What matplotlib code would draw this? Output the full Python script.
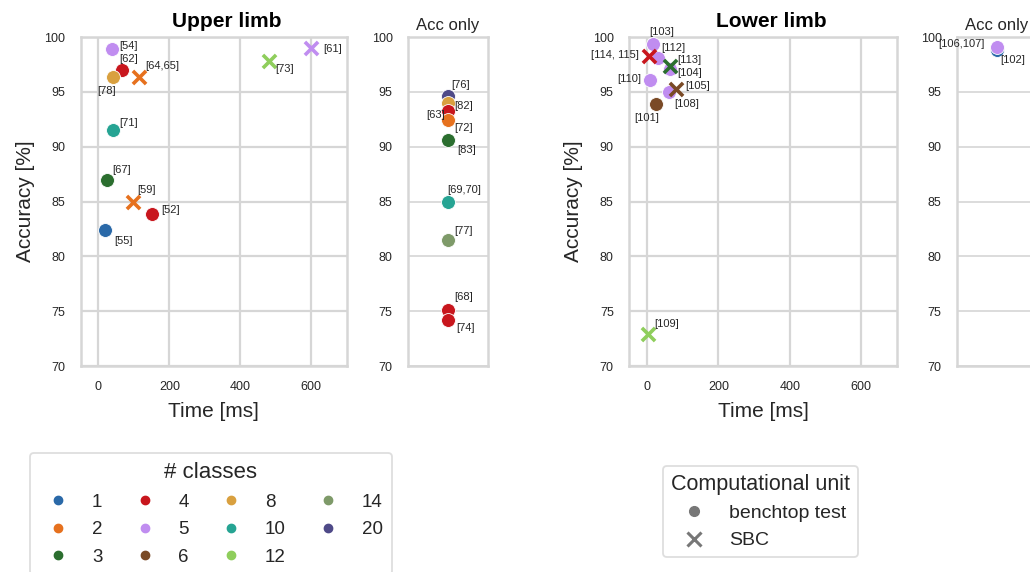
import matplotlib
matplotlib.use("Agg")
import matplotlib.pyplot as plt
from matplotlib.lines import Line2D

plt.rcParams["font.family"] = ["Liberation Sans", "DejaVu Sans"]

# ---- data ----
# Upper limb, time vs accuracy
up_ref = ["[54]", "[62]", "[78]", "[71]", "[67]", "[52]", "[55]", "[64,65]", "[61]", "[73]", "[59]"]
up_time = [38, 66, 40, 40, 25, 152, 19, 115, 600, 480, 98]
up_acc = [98.95, 97.0, 96.4, 91.5, 87.0, 83.9, 82.4, 96.4, 99.0, 97.8, 85.0]
up_cls = [5, 4, 8, 10, 3, 4, 1, 2, 5, 12, 2]
up_unit = ["bench"] * 7 + ["SBC"] * 4

# Upper limb, accuracy only
upacc_ref = ["[76]", "[82]", "[63]", "[72]", "[83]", "[69,70]", "[77]", "[68]", "[74]"]
upacc_acc = [94.6, 94.0, 93.3, 92.4, 90.6, 85.0, 81.5, 75.1, 74.2]
upacc_cls = [20, 8, 4, 2, 3, 10, 14, 4, 4]

# Lower limb, time vs accuracy
lo_ref = ["[103]", "[112]", "[104]", "[110]", "[108]", "[101]", "[114, 115]", "[113]", "[105]", "[109]"]
lo_time = [18, 30, 65, 8, 61, 25, 6, 65, 82, 2]
lo_acc = [99.4, 98.1, 97.1, 96.1, 95.0, 93.9, 98.3, 97.4, 95.3, 72.9]
lo_cls = [5, 5, 5, 5, 5, 6, 4, 3, 6, 12]
lo_unit = ["bench"] * 6 + ["SBC"] * 4

# Lower limb, accuracy only
loacc_ref = ["[102]", "[106,107]"]
loacc_acc = [98.85, 99.05]
loacc_cls = [1, 5]

classes = [1, 2, 3, 4, 5, 6, 8, 10, 12, 14, 20]

# ---- styling ----
palette = {1: "#2a69a8", 2: "#e6711e", 3: "#2b6e2f", 4: "#c8161d", 5: "#c08df0",
           6: "#7a4a26", 8: "#d9a03f", 10: "#26a493", 12: "#8fce5c", 14: "#7e9a69",
           20: "#4f4a88"}
grid_c = "#d6d6d6"
txt_c = "#262626"

# label offsets in pixels (dx, dy, ha)
up_off = [(7, 3, "left"), (-3, 11, "left"), (-15, -14, "left"), (7, 7, "left"),
          (5, 10, "left"), (9, 4, "left"), (9, -11, "left"), (6, 11, "left"),
          (12, -1, "left"), (7, -8, "left"), (4, 12, "left")]
upacc_off = [(3, 11, "left"), (6, -3, "left"), (-3, -4, "right"), (6, -8, "left"),
             (9, -10, "left"), (-1, 12, "left"), (6, 9, "left"), (6, 13, "left"),
             (8, -8, "left")]
lo_off = [(-4, 12, "left"), (4, 10, "left"), (7, -4, "left"), (-8, 1, "right"),
          (6, -12, "left"), (-22, -14, "left"), (-10, 1, "right"), (7, 6, "left"),
          (9, 3, "left"), (7, 10, "left")]
loacc_off = [(3, -10, "left"), (-12, 3, "right")]


def style_axes(ax, vgrid=True):
    ax.set_ylim(70, 100)
    ax.set_yticks([70, 75, 80, 85, 90, 95, 100])
    ax.set_facecolor("white")
    ax.grid(True, axis="y", color=grid_c, lw=1.6 if vgrid else 1.2)
    if vgrid:
        ax.grid(True, axis="x", color=grid_c, lw=1.6)
    ax.set_axisbelow(True)
    for s in ax.spines.values():
        s.set_color(grid_c)
        s.set_linewidth(1.8)
    ax.tick_params(length=0, labelsize=9, colors=txt_c, pad=11)


def draw_points(ax, xs, ys, cls, units, refs, offs):
    for x, y, c, u, r, (dx, dy, ha) in zip(xs, ys, cls, units, refs, offs):
        if u == "bench":
            ax.scatter(x, y, s=100, marker="o", color=palette[c], edgecolor="white",
                       linewidth=0.6, zorder=3)
        else:
            ax.scatter(x, y, s=90, marker="x", color=palette[c], linewidth=2.6, zorder=4)
        ax.annotate(r, (x, y), xytext=(dx, dy), textcoords="offset pixels",
                    ha=ha, va="center", fontsize=8, color=txt_c, zorder=5)


fig = plt.figure(figsize=(10.30, 5.72), dpi=100)
fig.patch.set_facecolor("white")

ax1 = fig.add_axes([0.0783, 0.360, 0.2583, 0.5752])
ax2 = fig.add_axes([0.3961, 0.360, 0.0777, 0.5752])
ax3 = fig.add_axes([0.6107, 0.360, 0.2602, 0.5752])
ax4 = fig.add_axes([0.9291, 0.360, 0.0777, 0.5752])

for ax in (ax1, ax3):
    style_axes(ax)
    ax.set_xlim(-50, 700)
    ax.set_xticks([0, 200, 400, 600])
    ax.set_xlabel("Time [ms]", fontsize=15, color=txt_c, labelpad=6)
    ax.set_ylabel("Accuracy [%]", fontsize=15, color=txt_c, labelpad=7)
for ax in (ax2, ax4):
    style_axes(ax, vgrid=False)
    ax.set_xlim(-1, 1)
    ax.set_xticks([])
    ax.set_title("Acc only", fontsize=12, color=txt_c, pad=5)

ax1.set_title("Upper limb", fontsize=15, fontweight="bold", color="black", x=0.55, pad=7)
ax3.set_title("Lower limb", fontsize=15, fontweight="bold", color="black", x=0.53, pad=7)

draw_points(ax1, up_time, up_acc, up_cls, up_unit, up_ref, up_off)
draw_points(ax2, [0] * len(upacc_acc), upacc_acc, upacc_cls, ["bench"] * len(upacc_acc),
            upacc_ref, upacc_off)
draw_points(ax3, lo_time, lo_acc, lo_cls, lo_unit, lo_ref, lo_off)
draw_points(ax4, [0] * len(loacc_acc), loacc_acc, loacc_cls, ["bench"] * len(loacc_acc),
            loacc_ref, loacc_off)

# legends
cls_handles = [Line2D([], [], ls="", marker="o", ms=6, color=palette[c]) for c in classes]
leg1 = fig.legend(cls_handles, [str(c) for c in classes], title="# classes", ncol=4,
                  loc="upper left", bbox_to_anchor=(30 / 1030, 1 - 453 / 572),
                  borderaxespad=0, fontsize=13.5, title_fontsize=16, columnspacing=1.25,
                  labelspacing=0.55, handletextpad=0.8, borderpad=0.5,
                  frameon=True, edgecolor=grid_c, fancybox=True)
leg1.get_frame().set_linewidth(1.3)

unit_handles = [Line2D([], [], ls="", marker="o", ms=7, color="#777777"),
                Line2D([], [], ls="", marker="x", ms=10, mew=2.2, color="#777777")]
leg2 = fig.legend(unit_handles, ["benchtop test", "SBC"], title="Computational unit",
                  loc="upper left", bbox_to_anchor=(663 / 1030, 1 - 466 / 572),
                  borderaxespad=0, fontsize=14, title_fontsize=15.5, labelspacing=0.5,
                  handletextpad=0.8, borderpad=0.4,
                  frameon=True, edgecolor=grid_c, fancybox=True)
leg2.get_frame().set_linewidth(1.3)
for leg in (leg1, leg2):
    for t in leg.get_texts():
        t.set_color(txt_c)
    leg.get_title().set_color(txt_c)

fig.savefig("out.png", dpi=100, facecolor="white")
